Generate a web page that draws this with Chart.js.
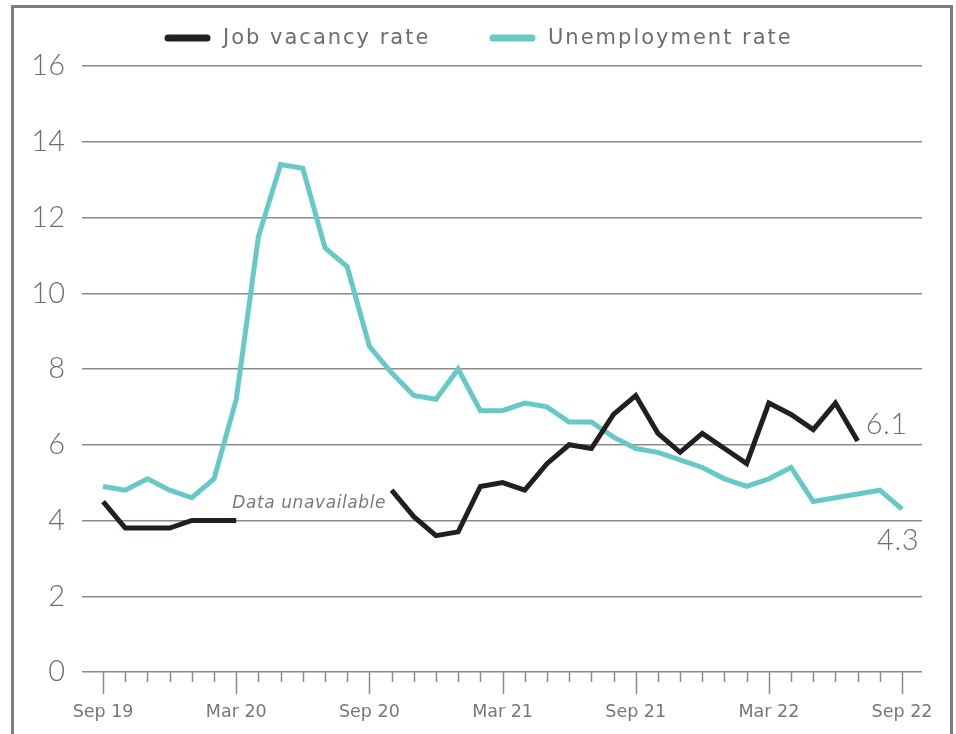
<!DOCTYPE html>
<html>
<head>
<meta charset="utf-8">
<style>
html,body{margin:0;padding:0;overflow:hidden;background:#fff;width:956px;height:734px}
#frame{position:absolute;left:11px;top:5px;width:936px;height:800px;border:3px solid #7d7d7d;box-sizing:content-box}
#wrap{position:absolute;left:0;top:0;width:956px;height:734px}
</style>
<script src="https://cdn.jsdelivr.net/npm/chart.js@4/dist/chart.umd.min.js"></script>
</head>
<body>
<div id="frame"></div>
<div id="wrap"><canvas id="c" width="956" height="734"></canvas></div>
<script>
// ---- Data ----
const months = ['Sep 19','Oct 19','Nov 19','Dec 19','Jan 20','Feb 20','Mar 20','Apr 20','May 20','Jun 20','Jul 20','Aug 20',
  'Sep 20','Oct 20','Nov 20','Dec 20','Jan 21','Feb 21','Mar 21','Apr 21','May 21','Jun 21','Jul 21','Aug 21',
  'Sep 21','Oct 21','Nov 21','Dec 21','Jan 22','Feb 22','Mar 22','Apr 22','May 22','Jun 22','Jul 22','Aug 22','Sep 22'];
const jobVacancy = [4.5,3.8,3.8,3.8,4.0,4.0,4.0,null,null,null,null,null,
  null,4.8,4.1,3.6,3.7,4.9,5.0,4.8,5.5,6.0,5.9,6.8,
  7.3,6.3,5.8,6.3,5.9,5.5,7.1,6.8,6.4,7.1,6.1,null,null];
const unemployment = [4.9,4.8,5.1,4.8,4.6,5.1,7.2,11.5,13.4,13.3,11.2,10.7,
  8.6,7.9,7.3,7.2,8.0,6.9,6.9,7.1,7.0,6.6,6.6,6.2,
  5.9,5.8,5.6,5.4,5.1,4.9,5.1,5.4,4.5,4.6,4.7,4.8,4.3];
const yTicks = [0,2,4,6,8,10,12,14,16];
const seriesNames = ['Job vacancy rate','Unemployment rate'];
const noteText = 'Data unavailable';

const COLORS = {job:'#231f20', unemp:'#66c9c6', grid:'#8a8a8a', text:'#6d6e71'};

const toXY = arr => arr.map((v,i)=>({x:i,y:v}));

const customPlugin = {
  id:'custom',
  afterDraw(chart){
    const ctx = chart.ctx;
    const xs = chart.scales.x, ys = chart.scales.y;
    const y0 = ys.getPixelForValue(0);
    ctx.save();
    // tick marks
    ctx.strokeStyle = COLORS.grid;
    ctx.lineWidth = 1.5;
    for(let i=0;i<months.length;i++){
      const x = Math.round(xs.getPixelForValue(i))+0.5;
      const len = (i%6===0)?22:10;
      ctx.beginPath();ctx.moveTo(x,y0);ctx.lineTo(x,y0+len);ctx.stroke();
    }
    // legend
    const items = [{name:seriesNames[0],color:COLORS.job,x:168},{name:seriesNames[1],color:COLORS.unemp,x:493}];
    ctx.font = '21px "DejaVu Sans"';
    try{ctx.letterSpacing='2px';}catch(e){}
    ctx.textBaseline='middle';
    ctx.textAlign='left';
    items.forEach(it=>{
      ctx.strokeStyle=it.color;ctx.lineWidth=7;ctx.lineCap='round';
      ctx.beginPath();ctx.moveTo(it.x,38);ctx.lineTo(it.x+39,38);ctx.stroke();
      ctx.fillStyle=COLORS.text;
      ctx.fillText(it.name,it.x+55,39);
    });
    // end labels
    const m0 = chart.getDatasetMeta(0).data, m1 = chart.getDatasetMeta(1).data;
    let lastJ = -1; jobVacancy.forEach((v,i)=>{if(v!==null) lastJ=i;});
    const lastU = unemployment.length-1;
    try{ctx.letterSpacing='0.5px';}catch(e){}
    ctx.font = '300 29px Lato';
    ctx.fillStyle = COLORS.text;
    ctx.textAlign='left';ctx.textBaseline='middle';
    ctx.fillText(jobVacancy[lastJ].toFixed(1), m0[lastJ].x+8, m0[lastJ].y-16);
    ctx.textAlign='right';
    ctx.fillText(unemployment[lastU].toFixed(1), m1[lastU].x+17, m1[lastU].y+32);
    // data unavailable note
    let gapStart = jobVacancy.indexOf(null)-1;
    ctx.font = 'italic 17px "DejaVu Sans"';
    try{ctx.letterSpacing='0.6px';}catch(e){}
    ctx.textAlign='left';ctx.textBaseline='alphabetic';
    ctx.fillStyle = '#7a7a7a';
    ctx.fillText(noteText, m0[gapStart].x-4, m0[gapStart].y-13);
    try{ctx.letterSpacing='0px';}catch(e){}
    ctx.restore();
  }
};

new Chart(document.getElementById('c'), {
  type:'line',
  data:{
    datasets:[
      {label:seriesNames[0], data:toXY(jobVacancy), borderColor:COLORS.job, backgroundColor:COLORS.job,
       borderWidth:5, pointRadius:0, tension:0, spanGaps:false, borderCapStyle:'butt', borderJoinStyle:'miter'},
      {label:seriesNames[1], data:toXY(unemployment), borderColor:COLORS.unemp, backgroundColor:COLORS.unemp,
       borderWidth:5, pointRadius:0, tension:0, spanGaps:false, borderCapStyle:'butt', borderJoinStyle:'miter'}
    ]
  },
  options:{
    responsive:false, animation:false, devicePixelRatio:1,
    layout:{padding:{left:0,right:34,top:66,bottom:0}},
    plugins:{legend:{display:false}, tooltip:{enabled:false}},
    scales:{
      x:{type:'linear', min:-0.95, max:36.9,
        afterFit(s){s.height=62; s.paddingLeft=0; s.paddingRight=0;},
        afterBuildTicks(s){s.ticks = months.map((m,i)=>({value:i}));},
        grid:{display:false, drawTicks:false},
        border:{display:false},
        ticks:{autoSkip:false, maxRotation:0, padding:30,
          color:'#777', font:{family:'"DejaVu Sans"', size:17.5},
          callback:(v)=> (Number.isInteger(v) && v%6===0 && months[v]) ? months[v] : ''}
      },
      y:{min:0, max:16,
        afterFit(s){s.width=82; s.paddingTop=0; s.paddingBottom=0;},
        afterBuildTicks(s){s.ticks = yTicks.map(v=>({value:v}));},
        grid:{color:COLORS.grid, lineWidth:1.5, drawTicks:false},
        border:{display:false},
        ticks:{padding:17, color:COLORS.text, font:{family:'Lato', size:29, weight:'300'}}
      }
    }
  },
  plugins:[customPlugin]
});
</script>
</body>
</html>
